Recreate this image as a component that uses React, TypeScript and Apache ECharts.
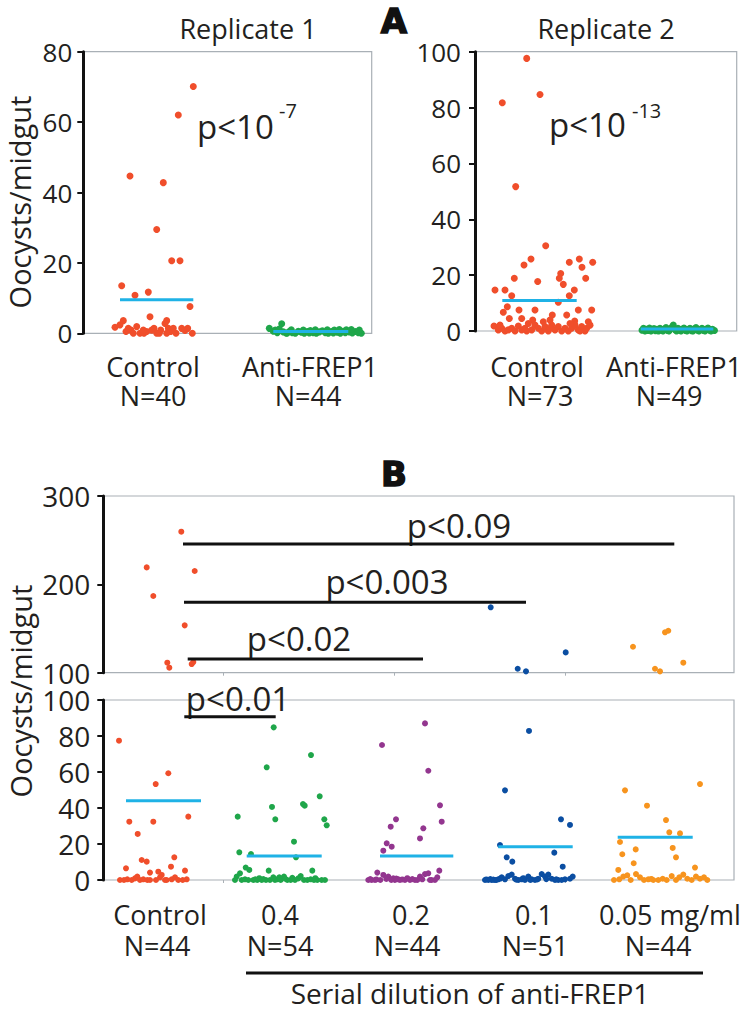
import React, { useEffect, useRef } from 'react';
import * as echarts from 'echarts';

const FONT = '"Open Sans", "Noto Sans", sans-serif';
const INK = '#231f20';
const FRAME = '#a9b0b6';
const RED = '#f04e2b';
const GREEN = '#1fa64a';
const CYAN = '#1fb2e6';
const PURPLE = '#93368f';
const BLUE = '#0b4ea2';
const ORANGE = '#f7941e';

// ---------- Panel A ----------
const titlesA = ['Replicate 1', 'Replicate 2'];
const categoriesA = ['Control', 'Anti-FREP1'];
const countsA1 = ['N=40', 'N=44'];
const countsA2 = ['N=73', 'N=49'];
const pA1 = ['p<10', '-7'];
const pA2 = ['p<10', '-13'];
const yAxisTitle = 'Oocysts/midgut';

// [jitter position, oocysts per midgut]
const rep1Control = [
  [110, 70.1], [95, 62], [46.7, 44.7], [80, 42.8], [73.4, 29.5], [88.4, 20.6], [96.7, 20.6],
  [38.4, 13.5], [51.7, 10.8], [65, 11.7], [106.7, 7.6], [66.7, 4.7], [40, 3.6], [83.4, 3.6],
  [31.7, 1.7], [36.7, 2.4], [42.7, 0.5], [47.7, 0.9], [53.4, 1.9], [56.7, 0], [60.7, 0],
  [63.4, 0.5], [70.7, 1.4], [73.4, 0], [77.4, 0.9], [81.7, 2.8], [85, 1.4], [87.4, 0.5],
  [92.7, 0], [98.4, 1.4], [101.7, 0.8], [104.4, 1.4], [109, 0], [50, 0], [68.4, 0.9],
  [45, 1.4], [90, 1.4], [76, 0], [60, 0.9], [83.4, 0],
];
const rep1Anti = [
  [186, 1.4], [190, 0.6], [194, 0.2], [198.4, 2.7], [200, 0.4], [203, 0], [206, 0.5], [209, 0.2],
  [212, 0], [215, 0.6], [218, 0.3], [221, 0], [224, 0.5], [227, 0.8], [230, 0.2], [233, 0],
  [236, 0.4], [239, 0.7], [242, 0.2], [245, 0], [248, 0.5], [251, 0.9], [254, 0.3], [257, 0],
  [260, 0.6], [263, 1], [266, 0.4], [269, 0.1], [272, 0.5], [275, 0.2], [278, 0], [192, 0.9],
  [196, 1.2], [208, 1], [220, 0.9], [232, 1], [244, 1], [256, 1.1], [268, 1.1], [276, 0.9],
  [204, 0.1], [226, 0.1], [250, 0.1], [262, 0.2],
];
const rep1Means = [
  [[36.7, 9.5], [110, 9.5]],
  [[190, 0.5], [265, 0.5]],
];

const rep2Control = [
  [51.7, 97.6], [27.3, 81.7], [65, 84.7], [40.7, 51.7], [70.7, 30.5], [56, 25.8], [49, 23.6],
  [39.3, 18.9], [62.7, 17.7], [20, 14.7], [30, 14.7], [36.7, 12.6], [94.3, 24.6], [104.3, 25.8],
  [117.7, 24.6], [107, 22.8], [110.7, 18.9], [85.7, 20.6], [84.3, 18.9], [88.3, 16.7],
  [99.3, 14.7], [94.3, 12.6], [83.3, 10.3], [28.3, 6.7], [32.3, 8.7], [44, 7.5], [60, 7.5],
  [77.3, 5.7], [91.7, 5.7], [103.3, 7.5], [116.7, 7.5], [34.3, 4.5], [46.7, 4.5], [57.7, 3.9],
  [75, 3.9], [99.7, 3.6], [113.3, 3.3],
  [19, 1.8], [23.3, 0.4], [26.7, 1], [30, 0], [33.3, 0.4], [36.7, 1], [40, 0], [43.3, 1.8],
  [46.7, 0.4], [50, 1], [53.3, 2.7], [56.7, 0.4], [60, 2.1], [63.3, 1], [66.7, 0], [70, 1.6],
  [73.3, 0], [76.7, 2.1], [80, 0.4], [83.3, 1.6], [86.7, 0], [90, 1], [93.3, 0], [96.7, 1],
  [100, 2.1], [103.3, 0.4], [106.7, 1.6], [110, 0], [111.7, 1], [115, 2.1], [68.3, 3.3],
  [51.7, 0], [25, 2.1], [95, 2.7], [75, 1], [105, 0],
];
const rep2Anti = [
  [167, 0.3], [168.5, 1], [170, 0], [171.5, 0.6], [173, 0.2], [174.5, 1.1], [176, 0], [177.5, 0.5],
  [179, 0.9], [180.5, 0.1], [182, 0.6], [183.5, 0], [185, 1], [186.5, 0.3], [188, 0], [189.5, 0.7],
  [191, 1.2], [192.5, 0.2], [194, 0], [195.5, 0.8], [197, 1.4], [198.3, 2.1], [200, 0.5],
  [201.5, 0], [203, 1], [204.5, 0.3], [206, 0], [207.5, 0.7], [209, 1.1], [210.5, 0.2], [212, 0],
  [213.5, 0.6], [215, 1], [216.5, 0.1], [218, 0], [219.5, 0.8], [221, 1.2], [222.5, 0.3], [224, 0],
  [225.5, 0.5], [227, 1], [228.5, 0.2], [230, 0], [231.5, 0.7], [233, 1.1], [234.5, 0.3], [236, 0],
  [237.5, 0.6], [239.5, 0.2],
];
const rep2Means = [
  [[27.3, 10.9], [101.7, 10.9]],
  [[165.7, 0.7], [238.3, 0.7]],
];

// ---------- Panel B ----------
const categoriesB = ['Control', '0.4', '0.2', '0.1', '0.05 mg/ml'];
const countsB = ['N=44', 'N=54', 'N=44', 'N=51', 'N=44'];
const dilutionLabel = 'Serial dilution of anti-FREP1';
const bGroupTicks = [119.7, 290.7, 461.7];

const bControlLow = [
  [15.7, 77.4], [65, 59.3], [52.4, 53.3], [26, 32.4], [50, 32.4], [85, 35.2], [34.4, 25.6],
  [71, 12.6], [38.4, 11.1], [43.4, 10.2], [22.7, 6.5], [67.7, 7.4], [81.7, 5.2], [46.7, 4.1],
  [55, 4.6], [58.4, 2.8],
  [16.7, 0], [20.7, 0], [24, 0.4], [28.4, 0], [31.7, 0.9], [34, 1.9], [36.7, 0], [40, 0.4],
  [44, 0], [52.7, 0], [56.7, 1.5], [61.7, 0], [68.4, 0.4], [71.7, 1.5], [75, 0], [79.4, 0],
  [83.4, 0.4], [46.7, 0], [63.4, 0],
];
const bControlHigh = [
  [43.4, 219.2], [50, 186.8], [78, 259.6], [91.4, 215.1], [81.4, 153.6], [64, 111.3],
  [66, 105.7], [88.4, 109.8], [90, 112],
];
const b04Low = [
  [170.4, 84.8], [163.4, 62.6], [207.7, 69.4], [168.7, 40.6], [172, 33.7], [134.4, 35.2],
  [199.7, 42.2], [201.4, 41.3], [216.4, 46.5], [221, 33.7], [223.4, 30.4], [190.7, 21.3],
  [192.7, 12.6], [136, 15.4], [147.7, 14.4], [209, 5.2], [142.4, 6.9], [146, 5.6], [165.4, 5.2],
  [133.4, 1.9], [136.7, 3.7],
  [131.7, 0], [138.4, 0], [141.7, 0.4], [145, 0], [150, 0], [154, 0], [158.4, 0], [162.7, 0],
  [166.7, 0], [171.7, 0], [174, 0.4], [177.4, 0], [180.7, 1.9], [184, 0], [187.4, 0], [191.7, 0],
  [195, 0.9], [197.4, 2.2], [200.7, 0], [204, 0], [207.4, 0.4], [210.7, 0], [214, 0], [218.4, 0],
  [221.7, 0], [176, 1.5], [170, 1.5], [156, 1], [160, 0.5], [182, 0.7], [189, 1.2], [212, 1],
  [152, 0.4],
];
const b02Low = [
  [278.7, 75], [292.7, 33.7], [287.4, 29.6], [283.4, 20.4], [288.4, 18.5], [280, 16.3],
  [265, 0], [268.4, 0], [271.7, 0], [274, 4.1], [280, 2.8], [285, 1.9], [290, 0.9], [295, 0.4],
  [321.7, 87], [325, 60.7], [336.7, 41.5], [338.4, 32.4], [320, 28.7], [316.7, 23.1], [336, 5.2],
  [291.7, 0], [296.7, 0], [301.7, 0], [306.7, 0], [311.7, 0], [316.7, 1.9], [321.7, 3.3],
  [325, 3.7], [328.4, 0], [331.7, 0], [326.7, 0],
  [267, 0.5], [273, 0.3], [277, 0], [283, 0.6], [288, 0], [293, 0.8], [299, 0.3], [304, 1],
  [309, 0.5], [314, 0], [319, 0.4], [334, 1.5],
];
const b01Low = [
  [425.7, 82.8], [401.7, 49.8], [457.7, 33.7], [466.7, 30.6], [396.7, 19.4], [451, 15.2],
  [403.4, 12.6], [409, 10.2], [459.4, 7.4],
  [381.7, 0], [385, 0], [388.4, 0], [391.7, 0], [395, 0.4], [398.4, 1.5], [401.7, 0.4],
  [405, 2.2], [408.4, 3], [411.7, 0.7], [415, 0], [418.4, 0.4], [421.7, 0], [425, 1.9],
  [428.4, 0.4], [431.7, 0], [435, 0.7], [438.4, 3.3], [441.7, 1.9], [445, 3], [448.4, 0.7],
  [451.7, 0], [455, 0], [458.4, 0], [461.7, 0.4], [466.7, 0.7], [469.4, 1.9],
  [383, 0.3], [387, 0.5], [390, 0.2], [393, 0], [397, 0.8], [413, 0.2], [420, 1], [427, 0],
  [434, 0.3], [443, 0.5], [453, 0.4],
];
const b01High = [[387.4, 174], [414.4, 104.5], [422.7, 101.5], [462.4, 123]];
const b005Low = [
  [596.7, 53.3], [521.7, 49.8], [543.7, 41.3], [562.7, 33.3], [566, 26.5], [576.7, 25.9],
  [516.7, 21.1], [532.4, 17], [519, 14.3], [569.4, 17.8], [572.7, 12.6], [530.4, 9.3],
  [515, 5.6], [591.7, 6.9],
  [510.7, 0], [516, 0.4], [520, 1.9], [524, 2.6], [527.4, 0], [532.7, 3.3], [536.7, 1.5],
  [540.7, 0], [545, 0.4], [550, 0], [555, 0], [559.4, 0.7], [563.4, 0], [568.4, 2.2],
  [572.7, 0], [576, 1.5], [580, 3], [584, 0.7], [588.4, 0], [592.7, 1.9], [596.7, 0.7],
  [600.7, 1.5], [604, 0], [548, 0.6],
];
const b005High = [
  [561.7, 145.7], [565, 147.5], [529.7, 129.4], [580, 111.3], [551.7, 104.5], [556.7, 101.5],
];
const bMeans = [
  [[22.7, 44], [97.7, 44]],
  [[143.4, 13.3], [218.4, 13.3]],
  [[276.7, 13.3], [350, 13.3]],
  [[395, 18.5], [469.4, 18.5]],
  [[514.4, 23.7], [589.4, 23.7]],
];
// significance brackets: [label, from, to, level]
const sigHigh = [
  ['p<0.09', 79.7, 571, 245.7],
  ['p<0.003', 80.7, 422.7, 179.6],
  ['p<0.02', 84.4, 319.7, 115.5],
];
const sigLow = [['p<0.01', 81, 172.4, 90.7]];

const grids = [
  { left: 83.3, top: 51.7, width: 288.4, height: 281.6 },
  { left: 475, top: 51.7, width: 261.7, height: 279.3 },
  { left: 103.3, top: 496, width: 630.7, height: 176.7 },
  { left: 103.3, top: 700, width: 630.7, height: 180 },
];

function scatter(grid: number, data: number[][], color: string, size: number) {
  return {
    type: 'scatter', xAxisIndex: grid, yAxisIndex: grid, data, symbolSize: size,
    itemStyle: { color, opacity: 1 }, silent: true, z: 3,
  };
}
function seg(grid: number, data: number[][], color: string, width: number) {
  return {
    type: 'line', xAxisIndex: grid, yAxisIndex: grid, data, symbol: 'none', silent: true,
    lineStyle: { color, width }, z: 4,
  };
}
function txt(text: string, x: number, y: number, fontSize: number, extra: any = {}) {
  const { style, ...rest } = extra;
  return {
    type: 'text', x, y, silent: true, ...rest,
    style: { text, fontSize, fontFamily: FONT, fill: INK, align: 'center', verticalAlign: 'middle', ...(style || {}) },
  };
}
// two-line category label; second line shifted by dx relative to first
function catLabel(cat: string, n: string, x: number, dx: number, y: number, lineHeight: number) {
  const pad = [0, Math.max(0, -2 * dx), 0, Math.max(0, 2 * dx)];
  return txt(`{c|${cat}}\n{n|${n}}`, x, y, 27, {
    style: {
      lineHeight,
      rich: {
        c: { fontSize: 27, fontFamily: FONT, fill: INK, lineHeight },
        n: { fontSize: 27, fontFamily: FONT, fill: INK, lineHeight, padding: pad },
      },
    },
  });
}

export default function App() {
  const ref = useRef<HTMLDivElement>(null);
  useEffect(() => {
    if (!ref.current) return;
    const chart = echarts.init(ref.current, null, { renderer: 'svg' });
    const yRanges = [
      { min: 0, max: 80, interval: 20, fontSize: 26, margin: 11 },
      { min: 0, max: 100, interval: 20, fontSize: 26, margin: 14 },
      { min: 100, max: 300, interval: 100, fontSize: 28, margin: 13 },
      { min: 0, max: 100, interval: 20, fontSize: 28, margin: 13 },
    ];
    const series: any[] = [
      scatter(0, rep1Control, RED, 7),
      scatter(0, rep1Anti, GREEN, 7),
      ...rep1Means.map((m) => seg(0, m, CYAN, 3)),
      scatter(1, rep2Control, RED, 7),
      scatter(1, rep2Anti, GREEN, 7),
      ...rep2Means.map((m) => seg(1, m, CYAN, 3)),
      scatter(2, bControlHigh, RED, 6),
      scatter(2, b01High, BLUE, 6),
      scatter(2, b005High, ORANGE, 6),
      ...sigHigh.map((s) => seg(2, [[s[1] as number, s[3] as number], [s[2] as number, s[3] as number]], '#111', 3)),
      scatter(3, bControlLow, RED, 6),
      scatter(3, b04Low, GREEN, 6),
      scatter(3, b02Low, PURPLE, 6),
      scatter(3, b01Low, BLUE, 6),
      scatter(3, b005Low, ORANGE, 6),
      ...bMeans.map((m) => seg(3, m, CYAN, 3)),
      ...sigLow.map((s) => seg(3, [[s[1] as number, s[3] as number], [s[2] as number, s[3] as number]], '#111', 3)),
    ];
    const aCatX = [[153, 310], [537, 674]];
    const aNX = [[153, 308], [540, 669]];
    const bCatX = [160, 280, 411, 534, 670];
    const bNX = [157, 280, 407, 535, 658];
    const sigHighPos = [[459, 525], [387, 581], [299, 638]];
    const sigLowPos = [[238, 698]];
    const heavy = { style: { fontFamily: '"DejaVu Sans", sans-serif', fontWeight: 'bold', fill: '#111', stroke: '#111', lineWidth: 1.5 } };
    const graphic: any[] = [
      txt(titlesA[0], 248, 28, 27),
      txt(titlesA[1], 606, 28, 27),
      txt('A', 394, 21, 34, heavy),
      txt('B', 394, 474, 34, heavy),
      txt(yAxisTitle, 19, 202, 29, { rotation: Math.PI / 2, style: { lineHeight: 30 } }),
      txt(yAxisTitle, 20, 691, 29, { rotation: Math.PI / 2, style: { lineHeight: 30 } }),
      txt(pA1[0], 197, 126, 33, { style: { align: 'left' } }),
      txt(pA1[1], 279, 110, 20, { style: { align: 'left' } }),
      txt(pA2[0], 549, 124, 33, { style: { align: 'left' } }),
      txt(pA2[1], 632, 110, 20, { style: { align: 'left' } }),
      ...categoriesA.map((c, i) => catLabel(c, countsA1[i], aCatX[0][i], aNX[0][i] - aCatX[0][i], 380.5, 29)),
      ...categoriesA.map((c, i) => catLabel(c, countsA2[i], aCatX[1][i], aNX[1][i] - aCatX[1][i], 380.5, 29)),
      ...categoriesB.map((c, i) => catLabel(c, countsB[i], bCatX[i], bNX[i] - bCatX[i], 930, 31)),
      ...sigHigh.map((s, i) => txt(s[0] as string, sigHighPos[i][0], sigHighPos[i][1], 33)),
      ...sigLow.map((s, i) => txt(s[0] as string, sigLowPos[i][0], sigLowPos[i][1], 33)),
      { type: 'line', silent: true, shape: { x1: 246, y1: 973, x2: 703, y2: 973 }, style: { stroke: '#111', lineWidth: 3 } },
      txt(dilutionLabel, 470, 993, 28),
    ];
    chart.setOption({
      animation: false,
      backgroundColor: '#ffffff',
      grid: grids.map((g) => ({ ...g, show: true, borderColor: FRAME, borderWidth: 1.2, backgroundColor: 'transparent' })),
      xAxis: grids.map((g, i) => ({
        type: 'value', gridIndex: i, min: 0, max: g.width,
        axisLine: { show: false }, axisLabel: { show: false }, splitLine: { show: false },
        axisTick: i >= 2
          ? { show: true, customValues: bGroupTicks, length: 3, lineStyle: { color: FRAME, width: 1 } }
          : { show: false },
      })),
      yAxis: yRanges.map((r, i) => ({
        type: 'value', gridIndex: i, min: r.min, max: r.max, interval: r.interval,
        axisLine: { show: true, lineStyle: { color: '#111', width: 3 } },
        axisTick: { show: true, length: 6, lineStyle: { color: '#111', width: 2 } },
        axisLabel: { fontFamily: FONT, fontSize: r.fontSize, color: INK, margin: r.margin, lineHeight: 24 },
        splitLine: { show: false },
      })),
      series,
      graphic,
    });
    return () => chart.dispose();
  }, []);
  return <div ref={ref} style={{ position: 'absolute', left: 0, top: 0, width: 750, height: 1014 }} />;
}
